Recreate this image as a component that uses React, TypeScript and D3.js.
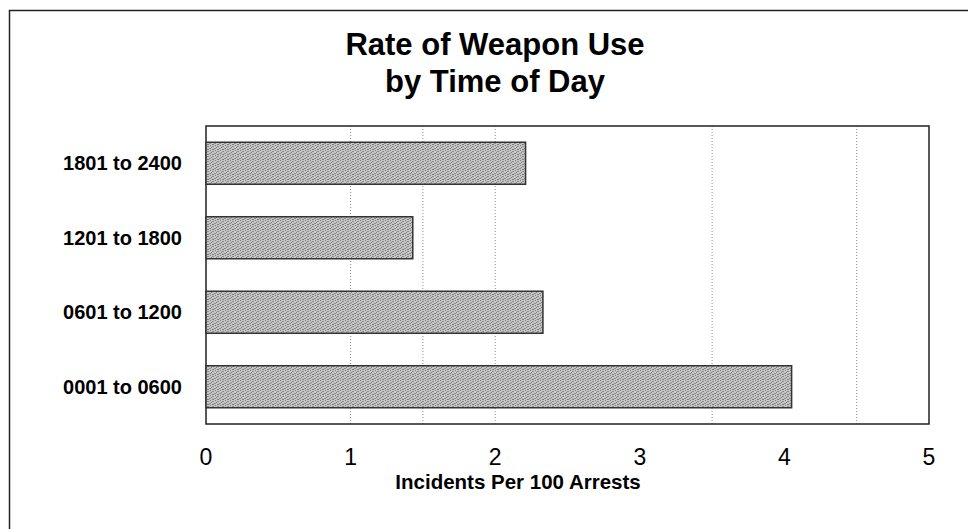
import React from "react";
import * as d3 from "d3";

const categories: string[] = ["1801 to 2400", "1201 to 1800", "0601 to 1200", "0001 to 0600"];
const rates: number[] = [2.21, 1.43, 2.33, 4.05];
const xTicks: number[] = [0, 1, 2, 3, 4, 5];
const gridValues: number[] = [1, 1.5, 2, 3.5, 4.5];
const titleLines: string[] = ["Rate of Weapon Use", "by Time of Day"];
const xAxisTitle = "Incidents Per 100 Arrests";

const W = 968;
const H = 529;
const plot = { left: 206, right: 929, top: 126, bottom: 424 };
const FONT = "'Liberation Sans', Arial, Helvetica, sans-serif";

// stipple dots (pattern cell offsets) for the grainy bar fill
const stippleDots: [number, number][] = [
  [0, 0], [3, 1], [1, 2], [4, 3], [2, 4], [0, 3], [3, 4], [2, 1],
];

export default function App() {
  const x = d3.scaleLinear().domain([0, 5]).range([plot.left, plot.right]);
  const y = d3
    .scaleBand<string>()
    .domain(categories)
    .range([plot.top, plot.bottom])
    .paddingInner(0.436)
    .paddingOuter(0.218);

  return (
    <div style={{ position: "fixed", left: 0, top: 0, width: W, height: H, background: "#fff" }}>
      <svg width={W} height={H} viewBox={`0 0 ${W} ${H}`} style={{ display: "block" }}>
        <defs>
          <pattern id="stipple" width="5" height="5" patternUnits="userSpaceOnUse">
            <rect width="5" height="5" fill="#c6c6c6" />
            {stippleDots.map(([dx, dy], i) => (
              <rect key={i} x={dx} y={dy} width="1" height="1" fill={i % 2 ? "#8c8c8c" : "#7c7c7c"} />
            ))}
          </pattern>
        </defs>
        <rect x={0} y={0} width={W} height={H} fill="#fff" />
        {/* outer frame */}
        <rect x={9.5} y={10.5} width={W + 20} height={H + 20} fill="none" stroke="#222" strokeWidth={1.5} />

        {/* title */}
        {titleLines.map((t, i) => (
          <text
            key={t}
            x={495}
            y={55 + i * 37}
            textAnchor="middle"
            fontFamily={FONT}
            fontWeight="bold"
            fontSize={31}
            fill="#000"
          >
            {t}
          </text>
        ))}

        {/* gridlines */}
        {gridValues.map((g) => (
          <line
            key={g}
            x1={x(g)}
            x2={x(g)}
            y1={plot.top}
            y2={plot.bottom}
            stroke="#8a8a8a"
            strokeWidth={1}
            strokeDasharray="1 2"
          />
        ))}

        {/* plot frame */}
        <rect
          x={plot.left}
          y={plot.top}
          width={plot.right - plot.left}
          height={plot.bottom - plot.top}
          fill="none"
          stroke="#222"
          strokeWidth={1.5}
        />

        {/* bars */}
        {categories.map((c, i) => (
          <rect
            key={c}
            x={x(0)}
            y={y(c)!}
            width={x(rates[i]) - x(0)}
            height={y.bandwidth()}
            fill="url(#stipple)"
            stroke="#333"
            strokeWidth={1.5}
          />
        ))}

        {/* category labels */}
        {categories.map((c) => (
          <text
            key={c}
            x={182}
            y={y(c)! + y.bandwidth() / 2 + 7}
            textAnchor="end"
            fontFamily={FONT}
            fontWeight="bold"
            fontSize={20}
            fill="#000"
          >
            {c}
          </text>
        ))}

        {/* x tick labels */}
        {xTicks.map((t) => (
          <text
            key={t}
            x={x(t)}
            y={465}
            textAnchor="middle"
            fontFamily={FONT}
            fontSize={23}
            fill="#000"
          >
            {t}
          </text>
        ))}

        {/* x axis title */}
        <text
          x={518}
          y={489}
          textAnchor="middle"
          fontFamily={FONT}
          fontWeight="bold"
          fontSize={20.5}
          fill="#000"
        >
          {xAxisTitle}
        </text>
      </svg>
    </div>
  );
}
